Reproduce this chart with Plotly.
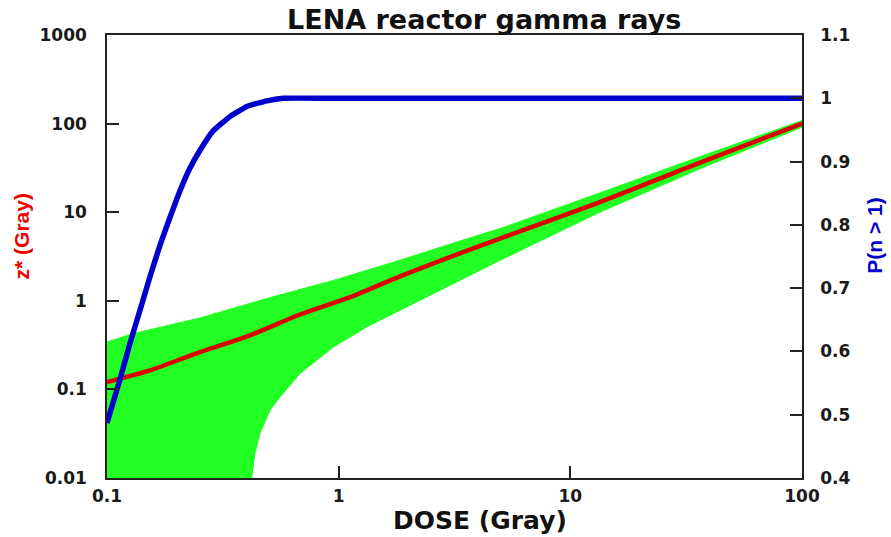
import plotly.graph_objects as go

# ---- data ----
dose_z = [0.1, 0.153, 0.252, 0.414, 0.681, 1.12, 1.84, 3.02, 4.97, 13.4, 36.3, 100]
z_star = [0.121, 0.164, 0.264, 0.408, 0.70, 1.10, 1.89, 3.12, 5.04, 13.0, 36.3, 100]

dose_hi = [0.1, 0.13, 0.252, 0.489, 0.949, 1.84, 3.57, 4.97, 13.4, 36.3, 100]
z_hi = [0.343, 0.427, 0.64, 1.06, 1.70, 2.87, 5.0, 6.53, 16.5, 42.4, 108]

dose_lo = [0.1, 0.42, 0.421, 0.435, 0.457, 0.505, 0.558, 0.681, 0.949, 1.32, 1.84, 2.56, 3.57, 4.97, 13.4, 36.3, 100]
z_lo = [0.001, 0.001, 0.01, 0.0188, 0.0317, 0.0581, 0.082, 0.151, 0.301, 0.506, 0.781, 1.205, 1.86, 2.86, 10.0, 31.0, 91.0]

dose_p = [0.1, 0.1138, 0.1257, 0.1388, 0.1533, 0.1694, 0.1871, 0.2066, 0.2282, 0.2521, 0.2866, 0.3393, 0.4016, 0.4897, 0.5747, 1, 10, 100]
p_gt1 = [0.487, 0.556, 0.613, 0.665, 0.718, 0.768, 0.812, 0.854, 0.890, 0.918, 0.948, 0.971, 0.987, 0.996, 1.0, 1.0, 1.0, 1.0]

x_ticks = [0.1, 1, 10, 100]
x_labels = ["0.1", "1", "10", "100"]
y_ticks = [0.01, 0.1, 1, 10, 100, 1000]
y_labels = ["0.01", "0.1", "1", "10", "100", "1000"]
y2_ticks = [0.4, 0.5, 0.6, 0.7, 0.8, 0.9, 1.0, 1.1]
y2_labels = ["0.4", "0.5", "0.6", "0.7", "0.8", "0.9", "1", "1.1"]

GREEN = "#22ff22"
RED = "#dd0000"
BLUE = "#0000cc"
AX = "#222222"
FONT = "DejaVu Sans"

band_x = dose_hi + dose_lo[::-1]
band_y = z_hi + z_lo[::-1]

fig = go.Figure()
fig.add_trace(go.Scatter(x=band_x, y=band_y, mode="lines", fill="toself",
                         fillcolor=GREEN, line=dict(color=GREEN, width=1),
                         showlegend=False, hoverinfo="skip"))
fig.add_trace(go.Scatter(x=dose_z, y=z_star, mode="lines",
                         line=dict(color=RED, width=4.5, shape="spline", smoothing=0.8),
                         showlegend=False))
fig.add_trace(go.Scatter(x=dose_p, y=p_gt1, mode="lines", yaxis="y2",
                         line=dict(color=BLUE, width=5.5, shape="spline", smoothing=0.4),
                         showlegend=False))

tickfont = dict(family=FONT, size=17, color="#1a1a1a", weight="bold")

fig.update_layout(
    width=891, height=537,
    margin=dict(l=107, r=89, t=35, b=59),
    paper_bgcolor="white", plot_bgcolor="white",
    xaxis=dict(type="log", range=[-1, 2], tickvals=x_ticks, ticktext=x_labels,
               ticks="inside", ticklen=12, tickwidth=1.5, tickcolor=AX,
               showline=True, linecolor=AX, linewidth=1.5, mirror=True,
               showgrid=False, zeroline=False, tickfont=tickfont,
               ticklabelstandoff=2),
    yaxis=dict(type="log", range=[-2, 3], tickvals=y_ticks, ticktext=y_labels,
               ticks="inside", ticklen=12, tickwidth=1.5, tickcolor=AX,
               showline=True, linecolor=AX, linewidth=1.5,
               showgrid=False, zeroline=False, tickfont=tickfont,
               ticklabelstandoff=15),
    yaxis2=dict(range=[0.4, 1.1], tickvals=y2_ticks, ticktext=y2_labels,
                overlaying="y", side="right",
                ticks="inside", ticklen=12, tickwidth=1.5, tickcolor=AX,
                showline=True, linecolor=AX, linewidth=1.5,
                showgrid=False, zeroline=False, tickfont=tickfont,
                ticklabelstandoff=13),
    annotations=[
        dict(text="<b>LENA reactor gamma rays</b>", xref="paper", yref="paper",
             x=0.5424, y=1.036, xanchor="center", yanchor="middle", showarrow=False,
             font=dict(family=FONT, size=27, color="#111111")),
        dict(text="<b>DOSE (Gray)</b>", xref="paper", yref="paper",
             x=0.5367, y=-0.097, xanchor="center", yanchor="middle", showarrow=False,
             font=dict(family=FONT, size=25, color="#111111")),
        dict(text="<b>z* (Gray)</b>", xref="paper", yref="paper",
             x=-0.1227, y=0.5447, xanchor="center", yanchor="middle", showarrow=False,
             textangle=-90,
             font=dict(family="Liberation Sans", size=21, color="#ee0000")),
        dict(text="<b>P(n > 1)</b>", xref="paper", yref="paper",
             x=1.105, y=0.547, xanchor="center", yanchor="middle", showarrow=False,
             textangle=-90,
             font=dict(family="Liberation Sans", size=21, color=BLUE)),
    ],
)

fig.write_html("out.html", config={"displayModeBar": False})
